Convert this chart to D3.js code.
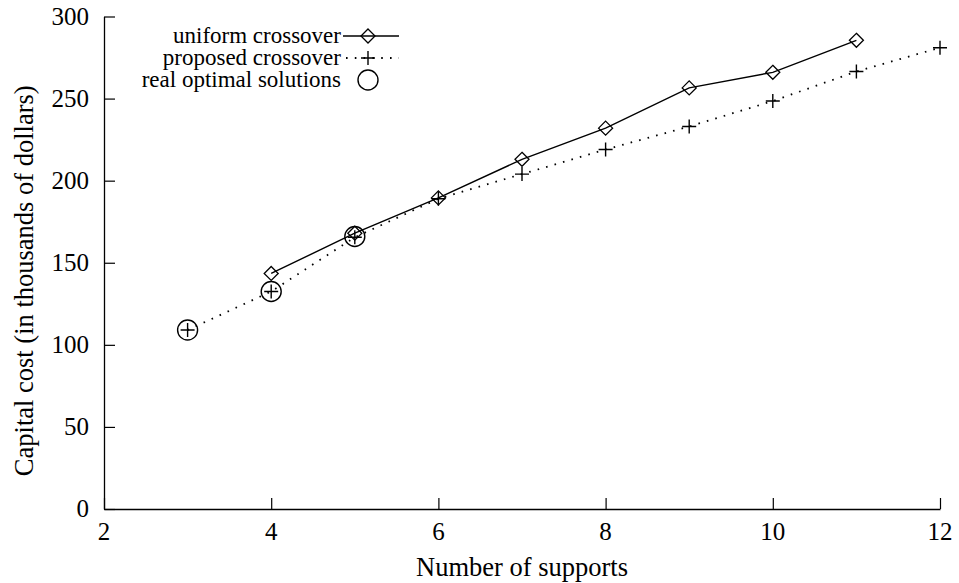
<!DOCTYPE html>
<html>
<head>
<meta charset="utf-8">
<script src="https://cdn.jsdelivr.net/npm/d3@7"></script>
<style>
  html, body { margin: 0; padding: 0; background: #fff; }
  svg { display: block; }
  text { font-family: "Liberation Serif", "Times New Roman", serif; fill: #000; }
</style>
</head>
<body>
<svg id="chart" width="959" height="583"></svg>
<script>
// Capital cost versus number of supports
const supportsUniform = [4, 5, 6, 7, 8, 9, 10, 11];
const costUniform = [143.5, 168, 189.5, 213, 232, 256.5, 266, 285.5];

const supportsProposed = [3, 4, 5, 6, 7, 8, 9, 10, 11, 12];
const costProposed = [109, 132.5, 165.5, 189, 204, 219, 233, 248.5, 266.5, 281];

const supportsOptimal = [3, 4, 5];
const costOptimal = [109, 132.5, 166];

const xTicks = [2, 4, 6, 8, 10, 12];
const yTicks = [0, 50, 100, 150, 200, 250, 300];

const legendLabels = ["uniform crossover", "proposed crossover", "real optimal solutions"];

const svg = d3.select("#chart");
const x = d3.scaleLinear().domain([2, 12]).range([104, 940]);
const y = d3.scaleLinear().domain([0, 300]).range([509, 16.5]);

const tickFont = 25;
const titleFont = 26.5;
const tickLen = 11;

// axes (left and bottom only, ticks pointing inward)
const xAxis = svg.append("g").attr("transform", `translate(0,${y(0)})`)
  .call(d3.axisTop(x).tickValues(xTicks).tickSize(tickLen).tickSizeOuter(0).tickFormat(""));
const yAxis = svg.append("g").attr("transform", `translate(${x(2)},0)`)
  .call(d3.axisRight(y).tickValues(yTicks).tickSize(tickLen).tickSizeOuter(0).tickFormat(""));
[xAxis, yAxis].forEach(g => {
  g.select(".domain").attr("stroke", "#000").attr("stroke-width", 1.3);
  g.selectAll(".tick line").attr("stroke", "#000").attr("stroke-width", 1.2);
});

// tick labels
svg.append("g").selectAll("text").data(xTicks).join("text")
  .attr("x", d => x(d)).attr("y", y(0) + 31)
  .attr("text-anchor", "middle").attr("font-size", tickFont)
  .text(d => d);
svg.append("g").selectAll("text").data(yTicks).join("text")
  .attr("x", x(2) - 15).attr("y", d => y(d) + 8)
  .attr("text-anchor", "end").attr("font-size", tickFont)
  .text(d => d);

// axis titles
svg.append("text").attr("x", (x(2) + x(12)) / 2).attr("y", 576)
  .attr("text-anchor", "middle").attr("font-size", titleFont)
  .text("Number of supports");
svg.append("text")
  .attr("transform", `translate(33,${(y(0) + y(300)) / 2 + 18}) rotate(-90)`)
  .attr("text-anchor", "middle").attr("font-size", titleFont)
  .text("Capital cost (in thousands of dollars)");

// markers
const diamondPath = (cx, cy, r) => `M${cx},${cy - r}L${cx + r},${cy}L${cx},${cy + r}L${cx - r},${cy}Z`;
const plusPath = (cx, cy, r) => `M${cx - r},${cy}H${cx + r}M${cx},${cy - r}V${cy + r}`;

const line = d3.line().x(d => x(d[0])).y(d => y(d[1]));
const uniformPts = supportsUniform.map((s, i) => [s, costUniform[i]]);
const proposedPts = supportsProposed.map((s, i) => [s, costProposed[i]]);
const optimalPts = supportsOptimal.map((s, i) => [s, costOptimal[i]]);

// proposed crossover: dotted line with plus markers
svg.append("path").datum(proposedPts).attr("d", line)
  .attr("fill", "none").attr("stroke", "#000").attr("stroke-width", 1.8)
  .attr("stroke-dasharray", "1.6,7.2");
svg.append("g").selectAll("path").data(proposedPts).join("path")
  .attr("d", d => plusPath(x(d[0]), y(d[1]), 7))
  .attr("stroke", "#000").attr("stroke-width", 1.4).attr("fill", "none");

// uniform crossover: solid line with diamond markers
svg.append("path").datum(uniformPts).attr("d", line)
  .attr("fill", "none").attr("stroke", "#000").attr("stroke-width", 1.4);
svg.append("g").selectAll("path").data(uniformPts).join("path")
  .attr("d", d => diamondPath(x(d[0]), y(d[1]), 7))
  .attr("stroke", "#000").attr("stroke-width", 1.3).attr("fill", "none");

// real optimal solutions: open circles
svg.append("g").selectAll("circle").data(optimalPts).join("circle")
  .attr("cx", d => x(d[0])).attr("cy", d => y(d[1])).attr("r", 10)
  .attr("stroke", "#000").attr("stroke-width", 1.4).attr("fill", "none");

// legend
const legendFont = 23;
const legX = 341, legY = [36, 58, 80], legMark = 368, legEnd = 399;
const legend = svg.append("g");
legend.selectAll("text").data(legendLabels).join("text")
  .attr("x", legX).attr("y", (d, i) => legY[i] + 7)
  .attr("text-anchor", "end").attr("font-size", legendFont)
  .text(d => d);
legend.append("line").attr("x1", legX + 2).attr("x2", legEnd)
  .attr("y1", legY[0]).attr("y2", legY[0])
  .attr("stroke", "#000").attr("stroke-width", 1.4);
legend.append("path").attr("d", diamondPath(legMark, legY[0], 7))
  .attr("stroke", "#000").attr("stroke-width", 1.3).attr("fill", "none");
legend.append("line").attr("x1", legX + 5).attr("x2", legEnd)
  .attr("y1", legY[1]).attr("y2", legY[1])
  .attr("stroke", "#000").attr("stroke-width", 1.8).attr("stroke-dasharray", "1.6,7.2");
legend.append("path").attr("d", plusPath(legMark, legY[1], 7))
  .attr("stroke", "#000").attr("stroke-width", 1.4).attr("fill", "none");
legend.append("circle").attr("cx", legMark).attr("cy", legY[2]).attr("r", 10)
  .attr("stroke", "#000").attr("stroke-width", 1.4).attr("fill", "none");
</script>
</body>
</html>
